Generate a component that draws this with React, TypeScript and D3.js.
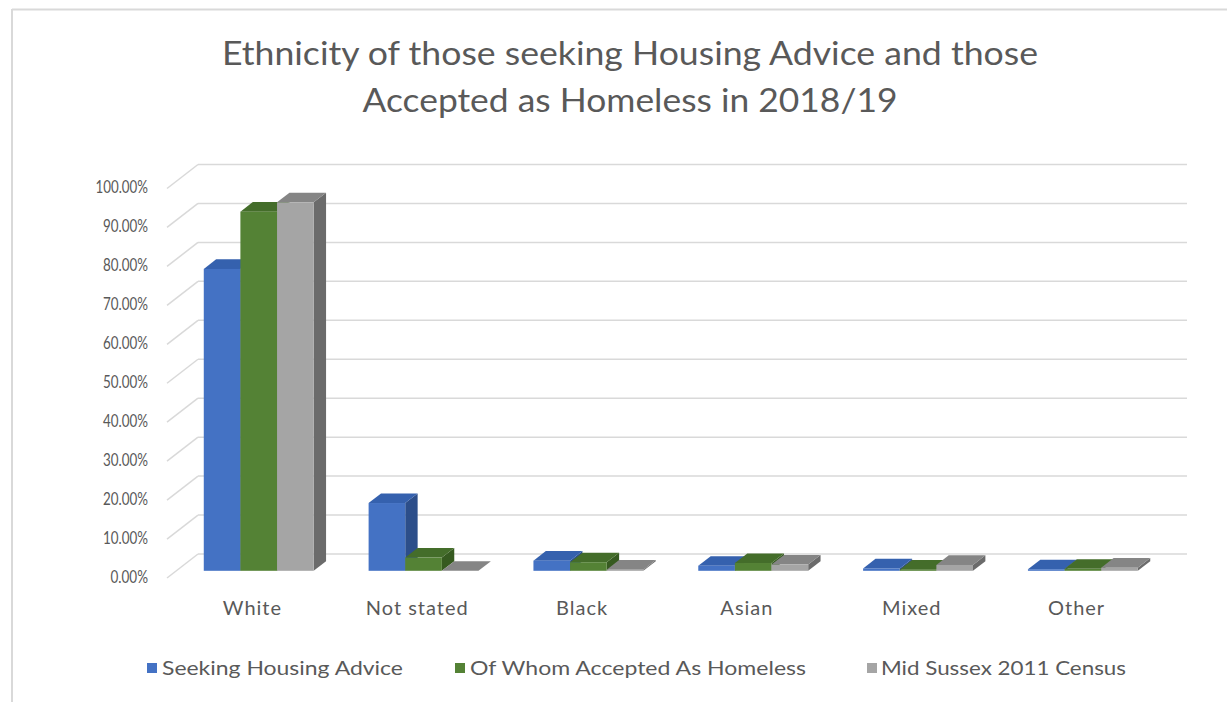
import React from "react";
import * as d3 from "d3";

const categories = ["White", "Not stated", "Black", "Asian", "Mixed", "Other"];
const seriesNames = ["Seeking Housing Advice", "Of Whom Accepted As Homeless", "Mid Sussex 2011 Census"];
const seekingAdvice = [0.775, 0.174, 0.026, 0.013, 0.006, 0.004];
const acceptedHomeless = [0.922, 0.034, 0.022, 0.02, 0.003, 0.005];
const census2011 = [0.946, 0.0, 0.003, 0.016, 0.015, 0.008];
const yTicks = [0, 0.1, 0.2, 0.3, 0.4, 0.5, 0.6, 0.7, 0.8, 0.9, 1.0];

const W = 1227;
const H = 702;
const TEXT = "#595959";
const GRID = "#D9D9D9";
const FONT = "Lato, 'Open Sans', sans-serif";

const seriesColors = [
  { front: "#4472C4", top: "#3561AE", side: "#2C4E8A" },
  { front: "#548235", top: "#446D2A", side: "#365A20" },
  { front: "#A5A5A5", top: "#858585", side: "#6B6B6B" },
];
const seriesData = [seekingAdvice, acceptedHomeless, census2011];

// 3D geometry
const DX = 31;
const DY = -24;
const T0 = 0.3;
const T1 = 0.7;

export default function App() {
  const y = d3.scaleLinear().domain([0, 1]).range([578, 188.5]);
  const x = d3.scaleBand<string>().domain(categories).range([167, 1156]).paddingInner(0).paddingOuter(0);
  const bw = x.bandwidth() / 4.5;
  const fmt = d3.format(".2%");

  const bars: React.ReactNode[] = [];
  categories.forEach((c, ci) => {
    const cx = (x(c) as number) + x.bandwidth() / 2 + T0 * DX;
    const gx0 = cx - 1.5 * bw;
    seriesData.forEach((arr, si) => {
      const v = arr[ci];
      const x0 = gx0 + si * bw;
      const x1 = x0 + bw;
      const yb = y(0) + T0 * DY;
      const yt = y(v) + T0 * DY;
      const ddx = (T1 - T0) * DX;
      const ddy = (T1 - T0) * DY;
      const col = seriesColors[si];
      bars.push(
        <g key={`${ci}-${si}`}>
          <polygon
            points={`${x1},${yb} ${x1 + ddx},${yb + ddy} ${x1 + ddx},${yt + ddy} ${x1},${yt}`}
            fill={col.side}
          />
          <polygon
            points={`${x0},${yt} ${x1},${yt} ${x1 + ddx},${yt + ddy} ${x0 + ddx},${yt + ddy}`}
            fill={col.top}
          />
          <rect x={x0} y={yt} width={bw} height={Math.max(0, yb - yt)} fill={col.front} />
        </g>
      );
    });
  });

  const legendItems = [
    { sx: 147, tx: 162, len: 241 },
    { sx: 455, tx: 470, len: 336 },
    { sx: 867, tx: 881, len: 245 },
  ];

  return (
    <svg width={W} height={H} style={{ position: "absolute", left: 0, top: 0, background: "#fff" }}>
      <rect x={0} y={0} width={W} height={H} fill="#fff" />
      <line x1={12} y1={9.5} x2={W} y2={9.5} stroke={GRID} strokeWidth={2} />
      <line x1={12} y1={9} x2={12} y2={H} stroke={GRID} strokeWidth={2} />

      <text x={630} y={65} textAnchor="middle" fill={TEXT} fontFamily={FONT} fontSize={32}
        textLength={816} lengthAdjust="spacingAndGlyphs">
        Ethnicity of those seeking Housing Advice and those
      </text>
      <text x={630} y={112} textAnchor="middle" fill={TEXT} fontFamily={FONT} fontSize={32}
        textLength={535} lengthAdjust="spacingAndGlyphs">
        Accepted as Homeless in 2018/19
      </text>

      {yTicks.map((t) => {
        const label = fmt(t);
        return (
          <g key={t}>
            <line x1={167 + DX} x2={1156 + DX} y1={y(t) + DY} y2={y(t) + DY} stroke={GRID} strokeWidth={1.5} />
            <line x1={167} x2={167 + DX} y1={y(t)} y2={y(t) + DY} stroke={GRID} strokeWidth={1.5} />
            <text x={148} y={y(t) - 2} textAnchor="end" dominantBaseline="central" fill={TEXT}
              fontFamily={FONT} fontSize={17} textLength={label.length * 7.5} lengthAdjust="spacingAndGlyphs">
              {label}
            </text>
          </g>
        );
      })}

      {bars}

      {categories.map((c) => (
        <text key={c} x={(x(c) as number) + x.bandwidth() / 2 + 3} y={615} textAnchor="middle" fill={TEXT}
          fontFamily={FONT} fontSize={20} letterSpacing={1}>
          {c}
        </text>
      ))}

      {seriesNames.map((n, i) => (
        <g key={n}>
          <rect x={legendItems[i].sx} y={663} width={10} height={10} fill={seriesColors[i].front} />
          <text x={legendItems[i].tx} y={675} fill={TEXT} fontFamily={FONT} fontSize={19}
            textLength={legendItems[i].len} lengthAdjust="spacingAndGlyphs">
            {n}
          </text>
        </g>
      ))}
    </svg>
  );
}
